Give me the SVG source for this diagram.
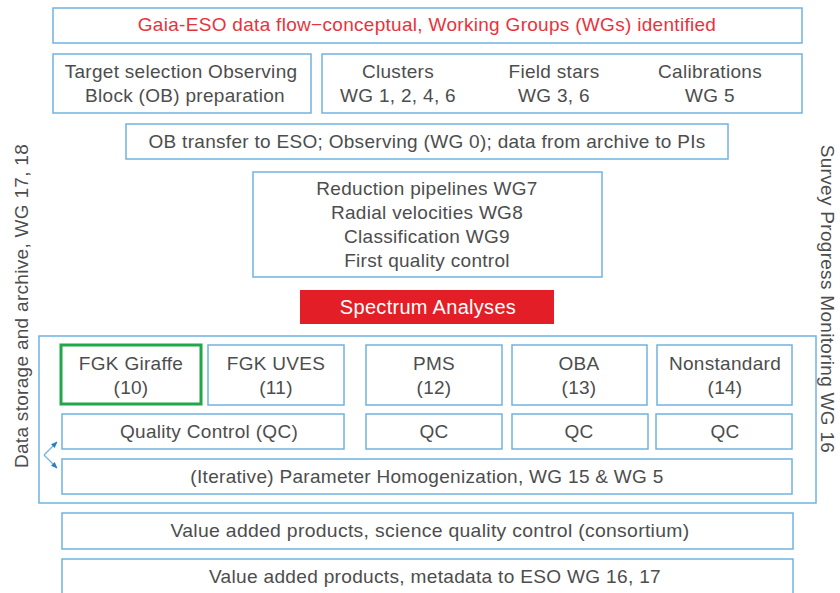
<svg xmlns="http://www.w3.org/2000/svg" width="840" height="593" viewBox="0 0 840 593">
<defs>
<style>
.b{fill:#fff;stroke:#6fb3e0;stroke-width:1.5}
.t{font-family:"Liberation Sans",Arial,sans-serif;font-size:19px;letter-spacing:0.3px;fill:#4d4d4d;text-anchor:middle}
.r{fill:#e8333c}
.w{fill:#fff;font-size:20px}
</style>
<marker id="ah" viewBox="0 0 10 10" refX="9" refY="5" markerWidth="5" markerHeight="5" orient="auto"><path d="M0,1 L10,5 L0,9 z" fill="#2a7fc0"/></marker>
</defs>
<rect width="840" height="593" fill="#fff"/>
<g id="title"><rect class="b" x="53" y="8" width="749" height="35"/><text class="t r" x="427" y="31">Gaia-ESO data flow−conceptual, Working Groups (WGs) identified</text></g>
<g id="target"><rect class="b" x="53" y="54" width="258" height="59"/><text class="t" x="181" y="78">Target selection Observing</text><text class="t" x="185" y="102">Block (OB) preparation</text></g>
<g id="samples"><rect class="b" x="322" y="54" width="480" height="59"/>
<text class="t" x="398" y="78">Clusters</text><text class="t" x="398" y="102">WG 1, 2, 4, 6</text>
<text class="t" x="554" y="78">Field stars</text><text class="t" x="554" y="102">WG 3, 6</text>
<text class="t" x="710" y="78">Calibrations</text><text class="t" x="710" y="102">WG 5</text></g>
<g id="obtransfer"><rect class="b" x="126" y="124" width="602" height="35"/><text class="t" x="427" y="148">OB transfer to ESO; Observing (WG 0); data from archive to PIs</text></g>
<g id="reduction"><rect class="b" x="253" y="172" width="349" height="105"/>
<text class="t" x="427" y="195">Reduction pipelines WG7</text><text class="t" x="427" y="219">Radial velocities WG8</text><text class="t" x="427" y="243">Classification WG9</text><text class="t" x="427" y="267">First quality control</text></g>
<g id="spectrum"><rect x="300" y="290" width="254" height="34" fill="#e31e26"/><text class="t w" x="428" y="314">Spectrum Analyses</text></g>
<g id="analysis"><rect class="b" x="39" y="336" width="777" height="167"/></g>
<g id="fgkgiraffe"><rect x="61" y="345" width="140" height="59" fill="#fff" stroke="#1fa74a" stroke-width="3"/><text class="t" x="131" y="370">FGK Giraffe</text><text class="t" x="131" y="394">(10)</text></g>
<g id="fgkuves"><rect class="b" x="208" y="345" width="136" height="60"/><text class="t" x="276" y="370">FGK UVES</text><text class="t" x="276" y="394">(11)</text></g>
<g id="pms"><rect class="b" x="366" y="345" width="136" height="60"/><text class="t" x="434" y="370">PMS</text><text class="t" x="434" y="394">(12)</text></g>
<g id="oba"><rect class="b" x="512" y="345" width="135" height="60"/><text class="t" x="579" y="370">OBA</text><text class="t" x="579" y="394">(13)</text></g>
<g id="nonstandard"><rect class="b" x="657" y="345" width="135" height="60"/><text class="t" x="725" y="370">Nonstandard</text><text class="t" x="725" y="394">(14)</text></g>
<g id="qc1"><rect class="b" x="62" y="414" width="282" height="35"/><text class="t" x="209" y="438">Quality Control (QC)</text></g>
<g id="qc2"><rect class="b" x="366" y="414" width="136" height="35"/><text class="t" x="434" y="438">QC</text></g>
<g id="qc3"><rect class="b" x="512" y="414" width="136" height="35"/><text class="t" x="579" y="438">QC</text></g>
<g id="qc4"><rect class="b" x="656" y="414" width="136" height="35"/><text class="t" x="725" y="438">QC</text></g>
<g id="homog"><rect class="b" x="62" y="459" width="730" height="35"/><text class="t" x="427" y="483">(Iterative) Parameter Homogenization, WG 15 &amp; WG 5</text></g>
<g id="vap1"><rect class="b" x="62" y="513" width="731" height="36"/><text class="t" x="430" y="537" textLength="519" lengthAdjust="spacingAndGlyphs">Value added products, science quality control (consortium)</text></g>
<g id="vap2"><rect class="b" x="62" y="559" width="731" height="45"/><text class="t" x="435" y="583" textLength="452" lengthAdjust="spacingAndGlyphs">Value added products, metadata to ESO WG 16, 17</text></g>
<g id="storage"><text class="t" transform="translate(28,306) rotate(-90)">Data storage and archive, WG 17, 18</text></g>
<g id="monitoring"><text class="t" transform="translate(821,299) rotate(90)">Survey Progress Monitoring WG 16</text></g>
<g id="connectors" fill="none" stroke="#6fb3e0" stroke-width="1.3">
<path d="M44,455 L57,442" marker-end="url(#ah)"/>
<path d="M44,455 L57,468" marker-end="url(#ah)"/>
</g>
</svg>
